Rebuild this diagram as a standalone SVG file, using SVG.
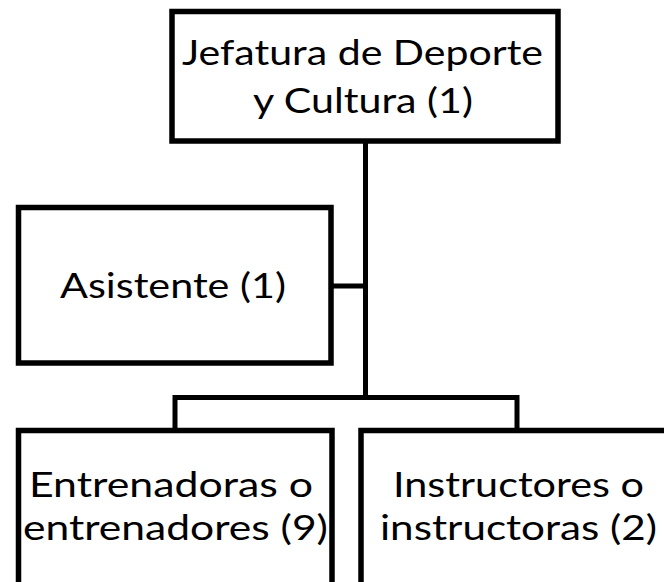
<svg xmlns="http://www.w3.org/2000/svg" width="664" height="582" viewBox="0 0 664 582">
<style>
.box{fill:#fff;stroke:#000;stroke-width:5.5;stroke-linejoin:miter}
.lbl{font-family:Lato,"Open Sans","Liberation Sans",sans-serif;font-size:35.5px;fill:#000;text-anchor:middle}
.con{fill:none;stroke:#000;stroke-width:5}
</style>
<rect width="664" height="582" fill="#fff"/>
<g id="connectors">
<path class="con" d="M365.5 141 V397.5"/>
<path class="con" d="M331 286 H365.5"/>
<path class="con" d="M175 430.5 V397.5 H517 V430.5"/>
</g>
<g id="jefatura">
<rect class="box" x="172" y="11.5" width="386" height="129.5"/>
<text class="lbl" x="362.5" y="65" textLength="361" lengthAdjust="spacingAndGlyphs">Jefatura de Deporte</text>
<text class="lbl" x="363" y="113" textLength="220" lengthAdjust="spacingAndGlyphs">y Cultura (1)</text>
</g>
<g id="asistente">
<rect class="box" x="18.5" y="207.5" width="312.5" height="155.5"/>
<text class="lbl" x="173" y="298" textLength="226" lengthAdjust="spacingAndGlyphs">Asistente (1)</text>
</g>
<g id="entrenadores">
<rect class="box" x="18.5" y="430.5" width="313.5" height="170"/>
<text class="lbl" x="171" y="497" textLength="284" lengthAdjust="spacingAndGlyphs">Entrenadoras o</text>
<text class="lbl" x="175.5" y="540" textLength="305" lengthAdjust="spacingAndGlyphs">entrenadores (9)</text>
</g>
<g id="instructores">
<rect class="box" x="361" y="430.5" width="313.5" height="170"/>
<text class="lbl" x="518.5" y="497" textLength="251" lengthAdjust="spacingAndGlyphs">Instructores o</text>
<text class="lbl" x="518.5" y="540" textLength="277" lengthAdjust="spacingAndGlyphs">instructoras (2)</text>
</g>
</svg>
